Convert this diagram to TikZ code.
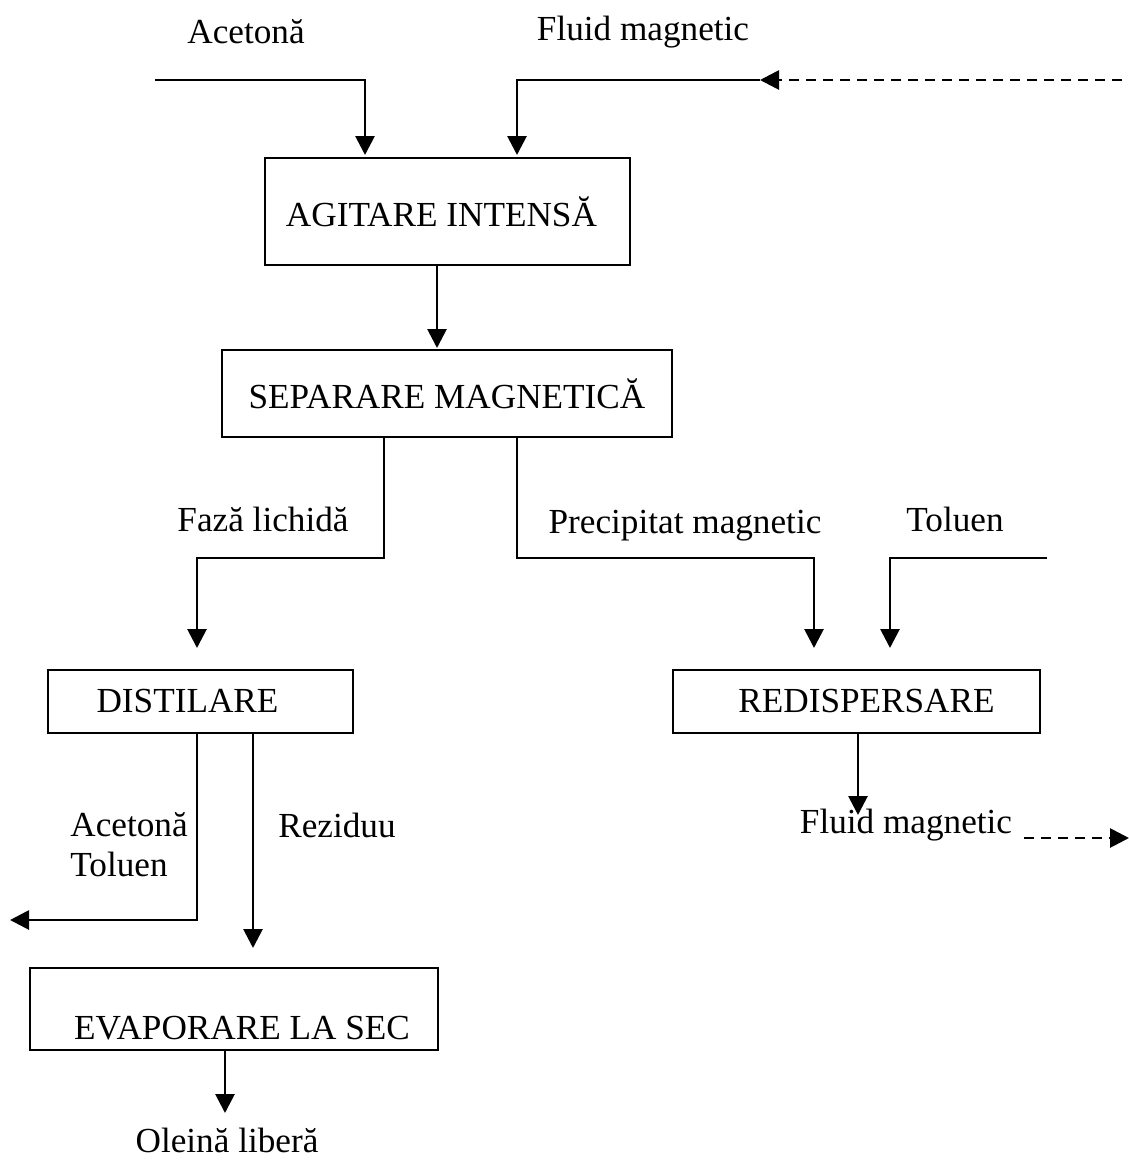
\documentclass[tikz,border=0pt]{standalone}
\usepackage{fontspec}
\setmainfont{Liberation Serif}
\usepackage{tikz}
\usetikzlibrary{positioning}
\usetikzlibrary{shapes.geometric, arrows, arrows.meta}
\tikzstyle{arrow} = [line width=1.4pt,-{Triangle[length=9.5pt,width=9.5pt]}]
\tikzstyle{dasharrow} = [line width=1.4pt,dash pattern=on 5pt off 3.5pt,-{Triangle[length=9.5pt,width=9.5pt]}]
\tikzstyle{procbox} = [draw, line width=1.2pt, rectangle, inner sep=0pt]

\begin{document}
\begin{tikzpicture}[x=0.5pt,y=-0.5pt,font=\fontsize{17.6}{20}\selectfont]
					\useasboundingbox (0,0) rectangle (1129,1163);

					% process boxes
					\node[procbox, minimum width=182.5pt, minimum height=53.5pt] (agit) at (447.5,211.5) {AGITARE INTENSĂ\kern6pt};
					\node[procbox, minimum width=225pt, minimum height=43.5pt] (sep) at (447,393.5) {SEPARARE MAGNETICĂ};
					\node[procbox, minimum width=152.5pt, minimum height=31.5pt] (dist) at (200.5,701.5) {DISTILARE\kern13pt};
					\node[procbox, minimum width=183.5pt, minimum height=31.5pt] (red) at (856.5,701.5) {\hspace{10pt}REDISPERSARE};
					\node[procbox, minimum width=204pt, minimum height=41pt] (evap) at (234,1009) {\raisebox{-15pt}[0pt][0pt]{\hspace{8pt}EVAPORARE LA SEC}};

					% labels
					\node (lblAce) at (246,32) {Acetonă};
					\node (lblFluid) at (643,32) {Fluid magnetic};
					\node (lblFaza) at (263,519) {Fază lichidă};
					\node[text depth=0pt] (lblPrec) at (685,522) {Precipitat magnetic};
					\node (lblTol) at (955,519) {Toluen};
					\node[anchor=west, align=left, inner sep=0pt] (lblSolv) at (70,845) {Acetonă\\Toluen};
					\node (lblRez) at (337,825) {Reziduu};
					\node (lblFluidOut) at (906,825) {Fluid magnetic};
					\node (lblOleina) at (227,1140) {Oleină liberă};

					% free ends and bends
					\coordinate (aceIn) at (155,80);
					\coordinate (agitIn1) at (365,155);
					\coordinate (recycIn) at (760,80);
					\coordinate (recycEnd) at (1122,80);
					\coordinate (agitIn2) at (517,155);
					\coordinate (sepIn) at (437,348);
					\coordinate (fazaX) at (384,0);
					\coordinate (fazaBend) at (197,558);
					\coordinate (distIn) at (197,648);
					\coordinate (precX) at (517,0);
					\coordinate (precBend) at (814,558);
					\coordinate (redIn1) at (814,648);
					\coordinate (tolIn) at (1047,558);
					\coordinate (redIn2) at (890,648);
					\coordinate (fluidOut) at (858,815);
					\coordinate (dashStart) at (1024,838);
					\coordinate (recycOut) at (1129,838);
					\coordinate (solvBend) at (197,920);
					\coordinate (solvOut) at (10,920);
					\coordinate (evapIn) at (253,948);
					\coordinate (olIn) at (225,1113);

					%arrows
					\draw[arrow] (aceIn) -| (agitIn1);
					\draw[arrow] (recycIn) -| (agitIn2);
					\draw[dasharrow] (recycEnd) -- (recycIn);
					\draw[arrow] (agit.south -| sepIn) -- (sepIn);
					\draw[arrow] (sep.south -| fazaX) |- (fazaBend) -- (distIn);
					\draw[arrow] (sep.south -| precX) |- (precBend) -- (redIn1);
					\draw[arrow] (tolIn) -| (redIn2);
					\draw[arrow] (red.south -| fluidOut) -- (fluidOut);
					\draw[dasharrow] (dashStart) -- (recycOut);
					\draw[arrow] (dist.south -| solvBend) -- (solvBend) -- (solvOut);
					\draw[arrow] (dist.south -| evapIn) -- (evapIn);
					\draw[arrow] (evap.south -| olIn) -- (olIn);
				\end{tikzpicture}
\end{document}
